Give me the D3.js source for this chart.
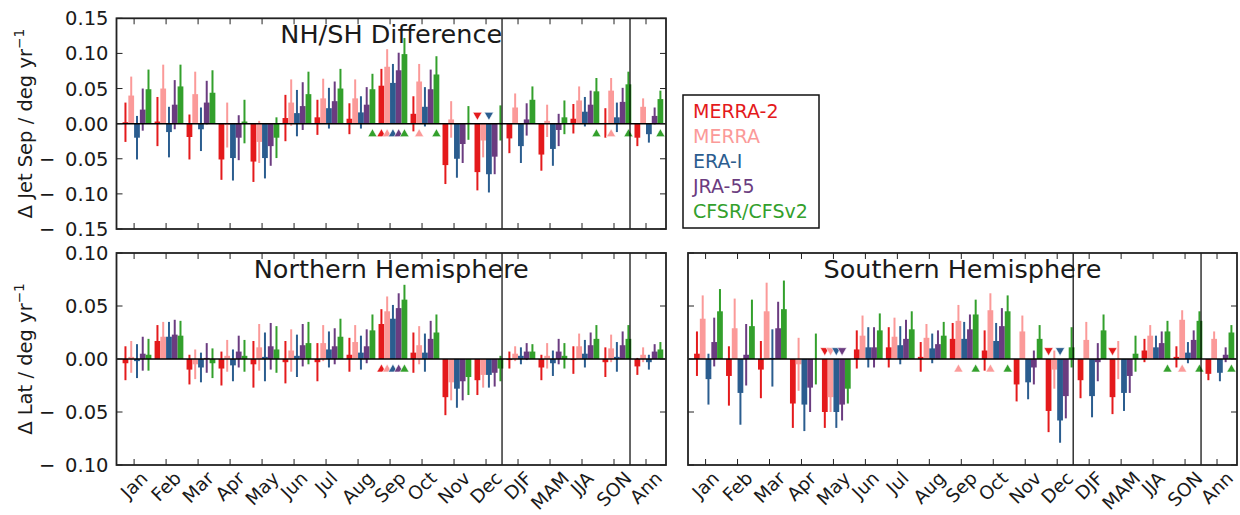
<!DOCTYPE html>
<html><head><meta charset="utf-8">
<script src="https://cdn.jsdelivr.net/npm/d3@7"></script>
<style>body{margin:0;background:#fff}svg{display:block}text{font-family:"DejaVu Sans",sans-serif;fill:#1a1a1a}</style>
</head><body><svg id="c" width="1240" height="515"></svg>
<script>
const categories = ["Jan","Feb","Mar","Apr","May","Jun","Jul","Aug","Sep","Oct","Nov","Dec","DJF","MAM","JJA","SON","Ann"];
const datasets = ["MERRA-2","MERRA","ERA-I","JRA-55","CFSR/CFSv2"];

// NH/SH difference (jet separation trend)
const diffValues = [
  [0.002,0.003,-0.019,-0.051,-0.054,0.008,0.009,0.007,0.054,0.014,-0.059,-0.069,-0.021,-0.044,0.007,0.001,-0.020],
  [0.040,0.050,0.042,-0.002,-0.026,0.030,0.036,0.036,0.081,0.060,0.006,-0.024,0.023,0.004,0.033,0.047,0.024],
  [-0.020,-0.012,-0.008,-0.049,-0.049,0.015,0.022,0.016,0.058,0.024,-0.050,-0.072,-0.032,-0.036,0.017,0.009,-0.015],
  [0.020,0.027,0.030,-0.020,-0.032,0.025,0.032,0.027,0.076,0.049,-0.029,-0.047,0.006,-0.009,0.027,0.031,0.011],
  [0.049,0.053,0.044,0.003,-0.020,0.042,0.050,0.049,0.099,0.070,0.001,0.001,0.034,0.009,0.046,0.056,0.035]
];
const diffErrors = [
  [0.028,0.035,0.032,0.029,0.029,0.033,0.025,0.022,0.024,0.025,0.027,0.026,0.021,0.023,0.021,0.021,0.012],
  [0.027,0.034,0.032,0.032,0.030,0.033,0.028,0.027,0.025,0.025,0.026,0.024,0.020,0.023,0.020,0.018,0.012],
  [0.031,0.036,0.031,0.032,0.029,0.033,0.029,0.023,0.027,0.028,0.027,0.026,0.024,0.024,0.021,0.021,0.012],
  [0.030,0.035,0.031,0.032,0.028,0.034,0.028,0.025,0.025,0.028,0.027,0.025,0.023,0.023,0.020,0.020,0.012],
  [0.028,0.031,0.032,0.031,0.029,0.032,0.028,0.022,0.023,0.026,0.024,0.025,0.019,0.024,0.019,0.018,0.012]
];
const diffSignificant = [
  ["Sep","Dec"],
  ["Sep","Oct","SON"],
  ["Sep","Dec"],
  ["Sep"],
  ["Aug","Sep","Oct","JJA","SON","Ann"]
];

// Northern Hemisphere latitude trend
const nhValues = [
  [-0.004,0.017,-0.010,-0.009,-0.005,-0.003,-0.003,0.004,0.033,0.006,-0.036,-0.020,-0.001,-0.008,-0.001,-0.003,-0.007],
  [0.002,0.021,-0.005,0.003,0.011,0.008,0.015,0.016,0.045,0.013,-0.022,-0.015,0.005,0.003,0.012,0.010,0.004],
  [-0.002,0.021,-0.008,-0.006,0.002,0.003,0.009,0.006,0.038,0.006,-0.028,-0.015,0.003,-0.004,0.005,0.002,-0.003],
  [0.005,0.023,0.001,0.007,0.012,0.013,0.012,0.012,0.048,0.019,-0.021,-0.013,0.007,0.007,0.013,0.013,0.007],
  [0.004,0.022,-0.004,0.003,0.009,0.015,0.021,0.027,0.056,0.025,-0.017,-0.009,0.007,0.003,0.019,0.019,0.009]
];
const nhErrors = [
  [0.016,0.015,0.014,0.016,0.022,0.020,0.018,0.016,0.014,0.019,0.017,0.014,0.008,0.012,0.013,0.014,0.008],
  [0.015,0.014,0.014,0.015,0.022,0.020,0.017,0.016,0.014,0.018,0.017,0.012,0.007,0.012,0.012,0.013,0.007],
  [0.016,0.014,0.014,0.015,0.023,0.020,0.017,0.016,0.013,0.018,0.018,0.012,0.008,0.012,0.013,0.014,0.007],
  [0.016,0.014,0.014,0.015,0.022,0.020,0.017,0.016,0.014,0.017,0.018,0.013,0.008,0.012,0.012,0.013,0.007],
  [0.015,0.014,0.014,0.015,0.022,0.020,0.017,0.015,0.014,0.017,0.017,0.012,0.007,0.012,0.013,0.013,0.007]
];
const nhSignificant = [["Sep"],["Sep"],["Sep"],["Sep"],["Sep"]];

// Southern Hemisphere latitude trend
const shValues = [
  [0.005,-0.016,-0.010,-0.042,-0.050,0.009,0.011,0.002,0.019,0.008,-0.024,-0.049,-0.020,-0.036,0.008,0.002,-0.014],
  [0.038,0.029,0.045,-0.005,-0.036,0.022,0.021,0.020,0.036,0.046,0.026,-0.010,0.018,-0.001,0.022,0.037,0.019],
  [-0.019,-0.032,0.001,-0.043,-0.050,0.011,0.013,0.010,0.019,0.017,-0.022,-0.058,-0.035,-0.032,0.011,0.006,-0.013],
  [0.016,0.004,0.029,-0.027,-0.043,0.011,0.019,0.014,0.028,0.031,-0.008,-0.035,-0.003,-0.016,0.015,0.018,0.004],
  [0.045,0.031,0.047,0.000,-0.028,0.027,0.028,0.022,0.042,0.045,0.019,0.011,0.027,0.005,0.026,0.036,0.025]
];
const shErrors = [
  [0.021,0.028,0.027,0.023,0.015,0.018,0.019,0.014,0.015,0.019,0.016,0.020,0.017,0.016,0.011,0.010,0.006],
  [0.022,0.028,0.027,0.025,0.014,0.019,0.018,0.013,0.015,0.016,0.015,0.018,0.017,0.018,0.010,0.009,0.007],
  [0.024,0.030,0.027,0.025,0.015,0.019,0.018,0.014,0.016,0.017,0.016,0.021,0.020,0.017,0.011,0.010,0.008],
  [0.023,0.029,0.025,0.023,0.015,0.019,0.018,0.013,0.014,0.017,0.016,0.021,0.018,0.016,0.011,0.009,0.007],
  [0.021,0.025,0.027,0.024,0.014,0.016,0.017,0.013,0.014,0.015,0.013,0.019,0.015,0.017,0.010,0.009,0.007]
];
const shSignificant = [
  ["May","Dec","MAM"],
  ["May","Sep","Oct","SON"],
  ["May","Dec"],
  ["May"],
  ["Sep","Oct","JJA","SON","Ann"]
];

const diffTicks = [-0.15,-0.10,-0.05,0.00,0.05,0.10,0.15];
const latTicks = [-0.10,-0.05,0.00,0.05,0.10];
const separators = [11.5, 15.5];

const colors = ["#e41a1c","#fb9a99","#2b5d8f","#6b3c80","#33a02c"];
const FS = 19.5;
const XFS = 18.5;
const frameColor = "#222";

const svg = d3.select("#c");

function fmtTick(v){
  const s = d3.format(".2f")(Math.abs(v));
  return {neg: v < -1e-9, s};
}

function panel(cfg){
  const x = d3.scaleLinear().domain([-0.55,16.625]).range([cfg.left,cfg.right]);
  const y = d3.scaleLinear().domain(cfg.ydom).range([cfg.bottom,cfg.top]);
  const g = svg.append("g");
  const bw = 0.18;
  const bwPx = x(bw)-x(0);

  cfg.vals.forEach((vals,k)=>{
    const gg = g.append("g");
    gg.selectAll("rect").data(vals).join("rect")
      .attr("x",(d,i)=>x(i+(k-2)*bw))
      .attr("width",bwPx)
      .attr("y",d=>y(Math.max(0,d)))
      .attr("height",d=>Math.abs(y(d)-y(0)))
      .attr("fill",colors[k]);
    gg.selectAll("line").data(vals).join("line")
      .attr("x1",(d,i)=>x(i+(k-2)*bw+bw/2))
      .attr("x2",(d,i)=>x(i+(k-2)*bw+bw/2))
      .attr("y1",(d,i)=>y(d+cfg.errs[k][i]))
      .attr("y2",(d,i)=>y(d-cfg.errs[k][i]))
      .attr("stroke",colors[k]).attr("stroke-width",2);
  });
  // significance markers
  cfg.sig.forEach((list,k)=>{
    const pts = list.map(c=>{const i=categories.indexOf(c); return {i, v: cfg.vals[k][i]};});
    g.append("g").selectAll("path").data(pts).join("path")
      .attr("d",d=> d.v>=0 ? "M0,-4L4.6,4L-4.6,4Z" : "M0,4L4.6,-4L-4.6,-4Z")
      .attr("transform",d=>`translate(${x(d.i+(k-2)*bw+bw/2)},${y(0)+(d.v>=0?9:-7.3)})`)
      .attr("fill",colors[k]).attr("stroke","#fff").attr("stroke-width",0.6);
  });

  // zero line
  g.append("line").attr("x1",cfg.left).attr("x2",cfg.right).attr("y1",y(0)).attr("y2",y(0))
    .attr("stroke","#000").attr("stroke-width",1.5);
  // separators
  g.selectAll(".sep").data(separators).join("line").attr("class","sep")
    .attr("x1",d=>x(d)).attr("x2",d=>x(d)).attr("y1",cfg.top).attr("y2",cfg.bottom)
    .attr("stroke","#000").attr("stroke-width",1.2);
  // x ticks top & bottom
  const idx = d3.range(categories.length);
  g.selectAll(".xtb").data(idx).join("line")
    .attr("x1",d=>x(d)).attr("x2",d=>x(d)).attr("y1",cfg.bottom).attr("y2",cfg.bottom-6)
    .attr("stroke",frameColor).attr("stroke-width",1);
  g.selectAll(".xtt").data(idx).join("line")
    .attr("x1",d=>x(d)).attr("x2",d=>x(d)).attr("y1",cfg.top).attr("y2",cfg.top+6)
    .attr("stroke",frameColor).attr("stroke-width",1);
  // y ticks left & right
  g.selectAll(".ytl").data(cfg.yticks).join("line")
    .attr("x1",cfg.left).attr("x2",cfg.left+6).attr("y1",d=>y(d)).attr("y2",d=>y(d))
    .attr("stroke",frameColor).attr("stroke-width",1);
  g.selectAll(".ytr").data(cfg.yticks).join("line")
    .attr("x1",cfg.right).attr("x2",cfg.right-6).attr("y1",d=>y(d)).attr("y2",d=>y(d))
    .attr("stroke",frameColor).attr("stroke-width",1);
  // frame
  g.append("rect").attr("x",cfg.left).attr("y",cfg.top)
    .attr("width",cfg.right-cfg.left).attr("height",cfg.bottom-cfg.top)
    .attr("fill","none").attr("stroke",frameColor).attr("stroke-width",1.8);

  // y tick labels
  if(cfg.showY){
    cfg.yticks.forEach(v=>{
      const f = fmtTick(v);
      const t = g.append("text").attr("x",cfg.left-8).attr("y",y(v)).attr("dy","0.36em")
        .attr("text-anchor","end").attr("font-size",FS);
      if(f.neg){ t.append("tspan").text("\u2212"); t.append("tspan").attr("dx","0.5em").text(f.s); }
      else t.text(f.s);
    });
  }
  // x labels
  if(cfg.showX){
    g.selectAll(".xl").data(categories).join("text")
      .attr("font-size",XFS).attr("text-anchor","middle").attr("dy","0.35em")
      .text(d=>d)
      .attr("transform",function(d,i){
        const w = this.getComputedTextLength();
        const s = (w + XFS*1.05)/Math.SQRT2;
        return `translate(${x(i)},${cfg.bottom+3+s/2}) rotate(-45)`;
      });
  }
  // title
  g.append("text").attr("x",(cfg.left+cfg.right)/2).attr("y",cfg.top+24.5)
    .attr("text-anchor","middle").attr("font-size",25.5).text(cfg.title);
  // y label
  if(cfg.ylabel){
    const t = g.append("text").attr("transform",`translate(32,${(cfg.top+cfg.bottom)/2}) rotate(-90)`)
      .attr("text-anchor","middle").attr("font-size",FS);
    t.append("tspan").text(cfg.ylabel);
    t.append("tspan").attr("dy",-8).attr("font-size",FS*0.7).text("\u22121");
  }
}

panel({left:116.5,right:666,top:18.3,bottom:229,ydom:[-0.15,0.15],yticks:diffTicks,
  vals:diffValues,errs:diffErrors,sig:diffSignificant,title:"NH/SH Difference",
  ylabel:"\u0394 Jet Sep / deg yr",showY:true,showX:false});
panel({left:116.5,right:666,top:253,bottom:465,ydom:[-0.10,0.10],yticks:latTicks,
  vals:nhValues,errs:nhErrors,sig:nhSignificant,title:"Northern Hemisphere",
  ylabel:"\u0394 Lat / deg yr",showY:true,showX:true});
panel({left:688,right:1237,top:253,bottom:465,ydom:[-0.10,0.10],yticks:latTicks,
  vals:shValues,errs:shErrors,sig:shSignificant,title:"Southern Hemisphere",
  ylabel:null,showY:false,showX:true});

// legend
const lg = svg.append("g");
lg.append("rect").attr("x",683).attr("y",95).attr("width",136).attr("height",133)
  .attr("fill","#fff").attr("stroke","#111").attr("stroke-width",1.5);
lg.selectAll("text").data(datasets).join("text")
  .attr("x",693).attr("y",(d,i)=>118+i*25).attr("font-size",19)
  .style("fill",(d,i)=>colors[i]).text(d=>d);
</script></body></html>
